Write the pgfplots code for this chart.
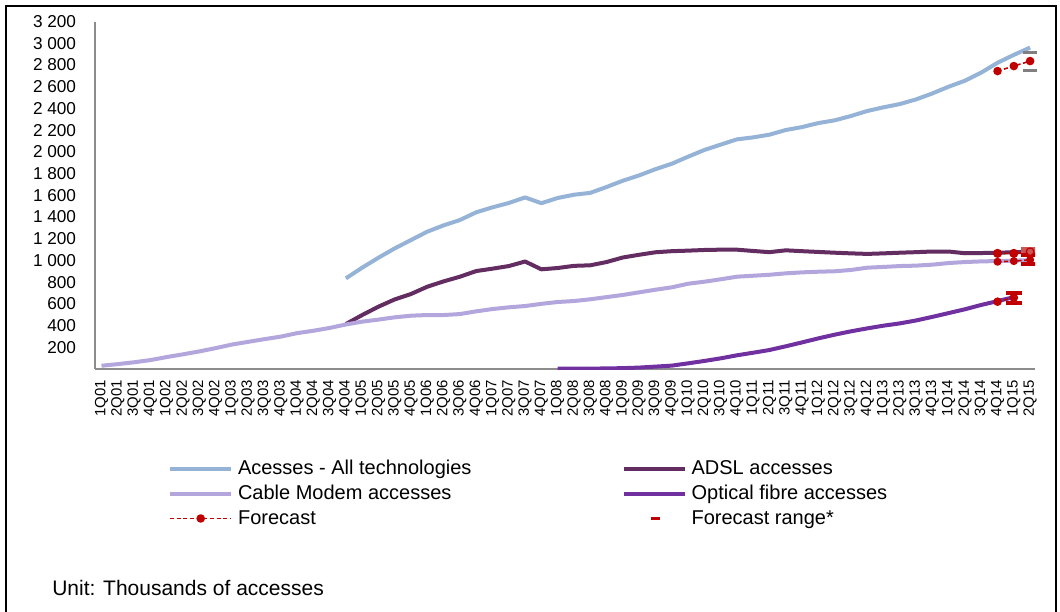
\documentclass[border=0pt]{standalone}
\usepackage{pgfplots}
\usepackage{pgfplotstable}
\pgfplotsset{compat=1.18}
\usepackage{fontspec}
\setmainfont{Liberation Sans}
\definecolor{cAll}{HTML}{95B3D7}
\definecolor{cADSL}{HTML}{632D62}
\definecolor{cCable}{HTML}{B3A6DD}
\definecolor{cFibre}{HTML}{7030A0}
\definecolor{cFc}{HTML}{C00000}
\definecolor{cFcL}{HTML}{CC5555}
\definecolor{cRangeGray}{HTML}{808080}
\definecolor{cAxis}{HTML}{8C8C8C}

\pgfplotstableread{
i v
15 835
16 933
17 1025
18 1111
19 1188
20 1265
21 1323
22 1372
23 1443
24 1489
25 1529
26 1580
27 1527
28 1575
29 1605
30 1622
31 1676
32 1734
33 1783
34 1840
35 1890
36 1955
37 2017
38 2066
39 2115
40 2133
41 2158
42 2201
43 2228
44 2265
45 2290
46 2330
47 2376
48 2410
49 2440
50 2483
51 2538
52 2600
53 2655
54 2730
55 2820
56 2893
57 2960
}\alltech

\pgfplotstableread{
i v
15 414
16 497
17 574
18 641
19 691
20 758
21 807
22 850
23 902
24 924
25 948
26 990
27 918
28 930
29 950
30 955
31 985
32 1027
33 1052
34 1075
35 1085
36 1090
37 1096
38 1099
39 1099
40 1087
41 1076
42 1093
43 1085
44 1078
45 1071
46 1065
47 1060
48 1065
49 1071
50 1076
51 1082
52 1082
53 1066
54 1068
55 1071
56 1075
57 1078
}\adsl

\pgfplotstableread{
i v
0 30
1 45
2 62
3 82
4 110
5 135
6 162
7 192
8 225
9 250
10 275
11 298
12 330
13 352
14 378
15 410
16 436
17 455
18 476
19 491
20 497
21 497
22 506
23 531
24 552
25 568
26 580
27 600
28 617
29 626
30 642
31 662
32 682
33 706
34 730
35 752
36 785
37 804
38 826
39 850
40 859
41 868
42 881
43 890
44 896
45 900
46 912
47 933
48 940
49 948
50 952
51 961
52 976
53 985
54 991
55 994
56 998
57 1002
}\cable

\pgfplotstableread{
i v
28 3
29 3
30 4
31 5
32 8
33 13
34 22
35 31
36 52
37 74
38 98
39 126
40 150
41 175
42 209
43 245
44 282
45 316
46 347
47 374
48 399
49 420
50 447
51 480
52 515
53 550
54 590
55 625
56 662
}\fibre

\begin{document}
\begin{tikzpicture}
\useasboundingbox (0pt,0pt) rectangle (795pt,458.25pt);
\draw[line width=1.6pt] (4.8pt,-2pt) -- (4.8pt,454pt) -- (792pt,454pt) -- (792pt,-2pt);
\begin{axis}[
  at={(71.25pt,181.5pt)}, anchor=south west,
  scale only axis, width=705pt, height=260.6pt,
  xmin=-0.4, xmax=57.3, ymin=0, ymax=3200,
  axis x line*=bottom, axis y line*=left,
  axis line style={draw=cAxis, line width=1pt, -},
  x axis line style={-}, y axis line style={-},
  major tick length=0pt,
  xtick={0,...,57},
  xticklabels={1Q01,2Q01,3Q01,4Q01,1Q02,2Q02,3Q02,4Q02,1Q03,2Q03,3Q03,4Q03,1Q04,2Q04,3Q04,4Q04,1Q05,2Q05,3Q05,4Q05,1Q06,2Q06,3Q06,4Q06,1Q07,2Q07,3Q07,4Q07,1Q08,2Q08,3Q08,4Q08,1Q09,2Q09,3Q09,4Q09,1Q10,2Q10,3Q10,4Q10,1Q11,2Q11,3Q11,4Q11,1Q12,2Q12,3Q12,4Q12,1Q13,2Q13,3Q13,4Q13,1Q14,2Q14,3Q14,4Q14,1Q15,2Q15},
  xticklabel style={yshift=-8pt, rotate=90, anchor=east, inner sep=0pt, font=\fontsize{11.2}{13}\selectfont},
  ytick={200,400,...,3200},
  yticklabel style={anchor=east, inner sep=0pt, xshift=-14pt, font=\fontsize{12.9}{15}\selectfont},
  /pgf/number format/assume math mode=true,
  /pgf/number format/1000 sep={\ },
  legend columns=2,
  legend cell align=left,
  legend image code/.code={\draw[mark repeat=2,mark phase=2,#1] plot coordinates {(0pt,0pt) (23pt,0pt) (46pt,0pt)};},
  legend style={at={(0.0777,-0.255)}, anchor=north west, draw=none, fill=none,
    inner sep=0pt, outer sep=0pt, font=\fontsize{15}{18}\selectfont,
    row sep=2.5pt,
    /tikz/every odd column/.append style={column sep=1.5pt},
    /tikz/every even column/.append style={column sep=110.6pt}},
  line join=round,
]
\addplot[cAll, line width=3pt] table[x=i,y=v] {\alltech};
\addplot[cADSL, line width=3pt] table[x=i,y=v] {\adsl};
\addplot[cCable, line width=3pt] table[x=i,y=v] {\cable};
\addplot[cFibre, line width=3pt] table[x=i,y=v] {\fibre};
% forecasts
\addplot[forget plot, cFc, line width=1.2pt, dash pattern=on 3pt off 2pt, mark=*, mark size=2.6pt, mark options={solid, fill=cFc}] coordinates {(55,2744) (56,2790) (57,2836)};
\addplot[forget plot, cFc, line width=1.2pt, dash pattern=on 3pt off 2pt, mark=*, mark size=2.8pt, mark options={solid, fill=cFc}] coordinates {(55,1065) (56,1065) (57,1078)};
\addplot[forget plot, cFc, line width=1.2pt, dash pattern=on 3pt off 2pt, mark=*, mark size=2.4pt, mark options={solid, fill=cFc}] coordinates {(55,988) (56,994) (57,1005)};
\addplot[forget plot, cFc, line width=1.2pt, dash pattern=on 3pt off 2pt, mark=*, mark size=2.6pt, mark options={solid, fill=cFc}] coordinates {(55,620) (56,657)};
% forecast ranges
\addplot[forget plot, cRangeGray, only marks, mark=-, mark size=5pt, mark options={line width=2.2pt}] coordinates {(57,2916) (57,2753)};
\addplot[forget plot, cFcL, only marks, mark=none,
  error bars/.cd, y dir=both, y explicit, error mark=|, error bar style={line width=3pt}, error mark options={line width=3.5pt, mark size=6.5pt}] coordinates {(57,1080.5) +- (0,21.5)};
\addplot[forget plot, cFc, only marks, mark=none,
  error bars/.cd, y dir=both, y explicit, error mark=|, error bar style={line width=3pt}, error mark options={line width=3pt, mark size=6.5pt}] coordinates {(57,1007) +- (0,43)};
\addplot[forget plot, cFc, only marks, mark=none,
  error bars/.cd, y dir=both, y explicit, error mark=|, error bar style={line width=2.5pt}, error mark options={line width=2.8pt, mark size=6pt}] coordinates {(56,654) +- (0,49)};
\addlegendimage{cFc, line width=1.2pt, dash pattern=on 3pt off 2pt, mark=*, mark size=2.6pt, mark options={solid, fill=cFc}}
\addlegendimage{legend image code/.code={\draw[cFc, line width=2.2pt] (20.5pt,0pt) -- (27.5pt,0pt);}}
\legend{Acesses - All technologies, ADSL accesses, Cable Modem accesses, Optical fibre accesses, Forecast, Forecast range*}
\end{axis}
\node[anchor=west, inner sep=0pt, font=\fontsize{15.75}{18}\selectfont] at (39pt,17pt) {Unit: Thousands of accesses};
\end{tikzpicture}
\end{document}
